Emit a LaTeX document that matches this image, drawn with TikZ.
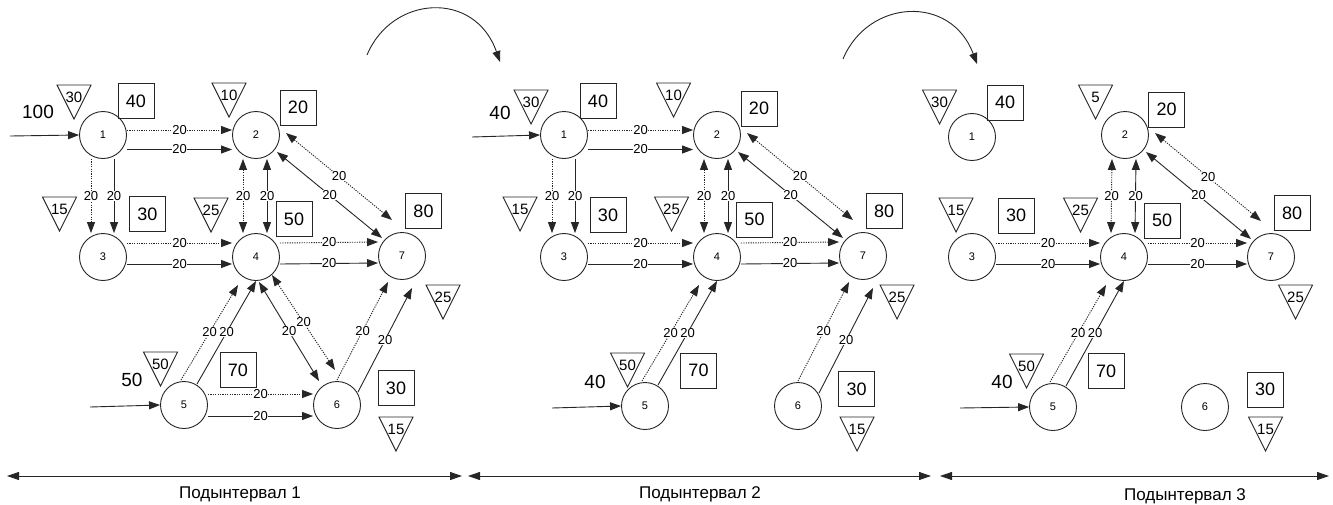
\documentclass[tikz,border=0pt]{standalone}
\usepackage{fontspec}
\setmainfont{Liberation Sans}
\usetikzlibrary{arrows.meta,calc}
\tikzset{
  ln/.style={line width=0.9pt,draw=black!85},
  sline/.style={ln},
  dline/.style={ln,dash pattern=on 1.2pt off 1.2pt},
  arr/.style={-{Triangle[length=11pt,width=8pt]}},
  darr/.style={{Triangle[length=11pt,width=8pt]}-{Triangle[length=11pt,width=8pt]}},
  tarr/.style={{Triangle[length=12pt,width=8pt]}-{Triangle[length=12pt,width=8pt]}},
  vert/.style={circle,draw=black!85,line width=0.9pt,minimum size=47pt,inner sep=0pt,font=\fontsize{11}{11}\selectfont},
  elab/.style={fill=white,inner sep=0pt,font=\fontsize{13}{13}\selectfont},
  box/.style={draw=black!85,line width=0.9pt,minimum width=36pt,minimum height=35pt,inner sep=0pt,font=\fontsize{18}{18}\selectfont},
  inlab/.style={inner sep=0pt,font=\fontsize{19}{19}\selectfont},
  sublab/.style={inner sep=0pt,font=\fontsize{17}{17}\selectfont},
  pics/tri/.style={code={
    \draw[ln] (-17,0) -- (17,0) -- (0,34) -- cycle;
    \node[inner sep=0pt,font=\fontsize{15}{15}\selectfont] at (0,12.5) {#1};
  }}
}
\newcommand\EdgesCommon[1]{%
  \draw[dline,darr] ([xshift=-13pt]#12.south) -- node[elab]{20} ([xshift=-13pt]#14.north);
  \draw[sline,darr] ([xshift=11pt]#12.south) -- node[elab]{20} ([xshift=11pt]#14.north);
  \draw[dline,darr] ($(#12)+(30,-2)$) -- node[elab]{20} ($(#17)+(-10,-36)$);
  \draw[sline,darr] ($(#12)+(21,17)$) -- node[elab]{20} ($(#17)+(-20,-18)$);
  \draw[dline,arr] ([yshift=14pt]#13.east) -- node[elab]{20} ([yshift=14pt]#14.west);
  \draw[sline,arr] ([yshift=-7pt]#13.east) -- node[elab]{20} ([yshift=-7pt]#14.west);
  \draw[dline,arr] ([yshift=14pt]#14.east) -- node[elab]{20} ([yshift=14pt]#17.west);
  \draw[sline,arr] ([yshift=-7pt]#14.east) -- node[elab]{20} ([yshift=-7pt]#17.west);
  \draw[dline,arr] ($(#15)+(-3,-25)$) -- node[elab]{20} ($(#14)+(-18,28)$);
  \draw[sline,arr] ($(#15)+(13,-21)$) -- node[elab]{20} ($(#14)+(0,24)$);
}
\newcommand\EdgesUpper[1]{%
  \draw[dline,arr] ([yshift=5pt]#11.east) -- node[elab]{20} ([yshift=5pt]#12.west);
  \draw[sline,arr] ([yshift=-14.5pt]#11.east) -- node[elab]{20} ([yshift=-14.5pt]#12.west);
  \draw[dline,arr] ([xshift=-12pt]#11.south) -- node[elab]{20} ([xshift=-12pt]#13.north);
  \draw[sline,arr] ([xshift=11pt]#11.south) -- node[elab]{20} ([xshift=11pt]#13.north);
  \draw[dline,arr] ($(#16)+(0,-25)$) -- node[elab]{20} ($(#17)+(-14,26)$);
  \draw[sline,arr] ($(#16)+(21,-13)$) -- node[elab]{20} ($(#17)+(10,32)$);
}
\begin{document}
\begin{tikzpicture}[x=1pt,y=-1pt]
\useasboundingbox[fill=white] (0,0) rectangle (1333,504);

% ---------- panel 1 ----------
\node[vert] (a1) at (103,135) {1};
\node[vert] (a2) at (256,135) {2};
\node[vert] (a3) at (103,257) {3};
\node[vert] (a4) at (256,257) {4};
\node[vert] (a5) at (184,405) {5};
\node[vert] (a6) at (337,405) {6};
\node[vert] (a7) at (402,256) {7};
\pic at (74,85) {tri=30};
\pic at (59.5,197) {tri=15};
\pic at (229,83) {tri=10};
\pic at (211,198) {tri=25};
\pic at (160.5,352) {tri=50};
\pic at (396,417) {tri=15};
\pic at (443,285) {tri=25};
\node[box] (ab1) at (136,101) {40};
\node[box] (ab3) at (147.5,214) {30};
\node[box] (ab2) at (298,107.5) {20};
\node[box] (ab4) at (294,219) {50};
\node[box] (ab7) at (423.5,211) {80};
\node[box] (ab5) at (238,370) {70};
\node[box] (ab6) at (396,388) {30};
\node[inlab] (ain1) at (38,112) {100};
\node[inlab] (ain5) at (132,380) {50};
\coordinate (ai1) at (10,136);
\coordinate (ai5) at (90,407);
\draw[sline,arr] (ai1) -- (a1.west);
\draw[sline,arr] (ai5) -- (a5.west);
\EdgesCommon{a}
\EdgesUpper{a}
\draw[sline,darr] ($(a4)+(3,25)$) -- node[elab]{20} ($(a6)+(-18,-24)$);
\draw[dline,darr] ($(a4)+(16,18)$) -- node[elab]{20} ($(a6)+(-2,-35)$);
\draw[dline,arr] ([yshift=11pt]a5.east) -- node[elab]{20} ([yshift=11pt]a6.west);
\draw[sline,arr] ([yshift=-11pt]a5.east) -- node[elab]{20} ([yshift=-11pt]a6.west);

% ---------- panel 2 ----------
\node[vert] (b1) at (564,135) {1};
\node[vert] (b2) at (717,135) {2};
\node[vert] (b3) at (564,257) {3};
\node[vert] (b4) at (717,257) {4};
\node[vert] (b5) at (645,406) {5};
\node[vert] (b6) at (798,406) {6};
\node[vert] (b7) at (863,256) {7};
\pic at (531,90) {tri=30};
\pic at (673.5,83) {tri=10};
\pic at (520,197) {tri=15};
\pic at (671.5,197) {tri=25};
\pic at (897,285) {tri=25};
\pic at (627.5,353) {tri=50};
\pic at (857,417) {tri=15};
\node[box] (bb1) at (598,101) {40};
\node[box] (bb2) at (759,108.5) {20};
\node[box] (bb3) at (608,215) {30};
\node[box] (bb4) at (754.5,219.5) {50};
\node[box] (bb7) at (884,211) {80};
\node[box] (bb5) at (698.5,370.5) {70};
\node[box] (bb6) at (856.5,389) {30};
\node[inlab] (bin1) at (500,113) {40};
\node[inlab] (bin5) at (595,382) {40};
\coordinate (bi1) at (472,137);
\coordinate (bi5) at (552,408);
\draw[sline,arr] (bi1) -- (b1.west);
\draw[sline,arr] (bi5) -- (b5.west);
\EdgesCommon{b}
\EdgesUpper{b}

% ---------- panel 3 ----------
\node[vert] (c1) at (972,137) {1};
\node[vert] (c2) at (1125,135) {2};
\node[vert] (c3) at (972,257) {3};
\node[vert] (c4) at (1124,257) {4};
\node[vert] (c5) at (1053,407) {5};
\node[vert] (c6) at (1205,407) {6};
\node[vert] (c7) at (1271,257) {7};
\pic at (939.5,90) {tri=30};
\pic at (1095.5,85) {tri=5};
\pic at (956,198) {tri=15};
\pic at (1080.5,198) {tri=25};
\pic at (1295.5,285) {tri=25};
\pic at (1026.5,354) {tri=50};
\pic at (1265.5,417) {tri=15};
\node[box] (cb1) at (1005,102.5) {40};
\node[box] (cb2) at (1166.5,109.5) {20};
\node[box] (cb3) at (1016,215.5) {30};
\node[box] (cb4) at (1162,220.5) {50};
\node[box] (cb7) at (1292,213) {80};
\node[box] (cb5) at (1106,371) {70};
\node[box] (cb6) at (1265,389.5) {30};
\node[inlab] (cin5) at (1002,382) {40};
\coordinate (ci5) at (960,408);
\draw[sline,arr] (ci5) -- (c5.west);
\EdgesCommon{c}

% ---------- transition arrows ----------
\coordinate (s1) at (367,55);
\coordinate (e1) at (500,62);
\draw[sline,arr] (s1) .. controls (392,-5) and (475,-10) .. (e1);
\coordinate (s2) at (843,59);
\coordinate (e2) at (977,64);
\draw[sline,arr] (s2) .. controls (868,-1) and (951,-6) .. (e2);

% ---------- time axis ----------
\coordinate (t0) at (7,476);
\coordinate (t1) at (462,476);
\coordinate (t2) at (468,476);
\coordinate (t3) at (931,476);
\coordinate (t4) at (940,476);
\coordinate (t5) at (1329,476);
\draw[sline,tarr] (t0) -- (t1);
\draw[sline,tarr] (t2) -- (t3);
\draw[sline,tarr] (t4) -- (t5);
\node[sublab] (l1) at (240,494) {Подынтервал 1};
\node[sublab] (l2) at (700,494) {Подынтервал 2};
\node[sublab] (l3) at (1185,496) {Подынтервал 3};
\end{tikzpicture}
\end{document}
